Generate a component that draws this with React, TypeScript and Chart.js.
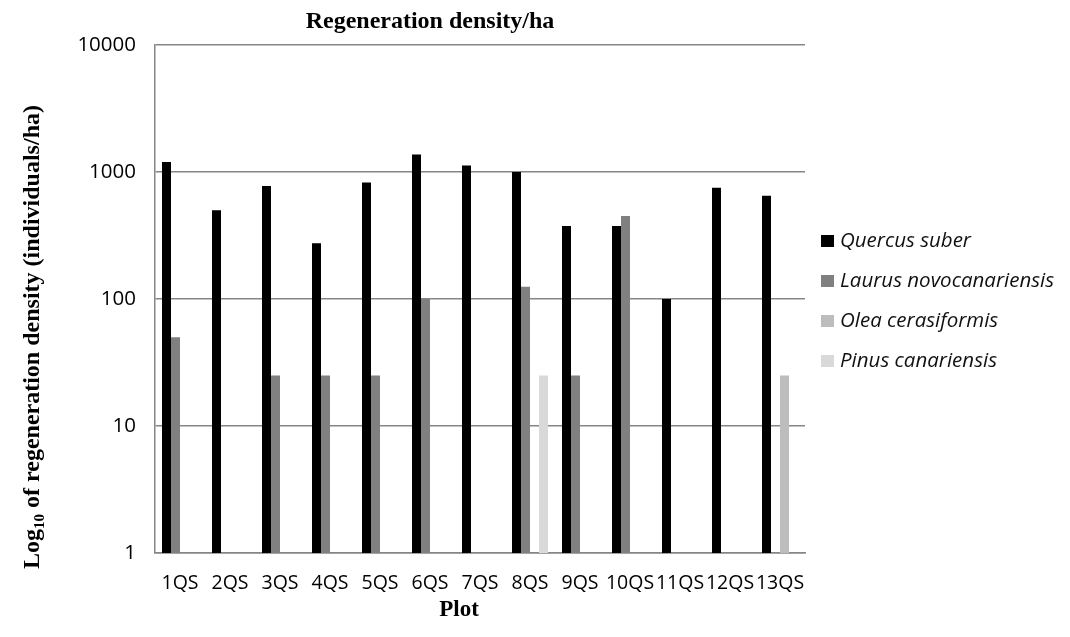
import React, { useEffect, useRef } from 'react';
import { Chart, registerables } from 'chart.js';

Chart.register(...registerables);

const plots = ['1QS', '2QS', '3QS', '4QS', '5QS', '6QS', '7QS', '8QS', '9QS', '10QS', '11QS', '12QS', '13QS'];
const quercusSuber = [1200, 500, 775, 275, 825, 1375, 1125, 1000, 375, 375, 100, 750, 650];
const laurusNovocanariensis = [50, null, 25, 25, 25, 100, null, 125, 25, 450, null, null, null];
const oleaCerasiformis = [null, null, null, null, null, null, null, null, null, null, null, null, 25];
const pinusCanariensis = [null, null, null, null, null, null, null, 25, null, null, null, null, null];
const yTicks = [1, 10, 100, 1000, 10000];

const seriesNames = ['Quercus suber', 'Laurus novocanariensis', 'Olea cerasiformis', 'Pinus canariensis'];
const seriesColors = ['#000000', '#808080', '#bdbdbd', '#d9d9d9'];

const SANS = '"Open Sans", sans-serif';
const SERIF = '"Liberation Serif", "Times New Roman", serif';

// titles and legend drawn straight onto the canvas
const decorations = {
  id: 'decorations',
  afterDraw(chart: Chart) {
    const ctx = chart.ctx;
    ctx.save();
    ctx.fillStyle = '#000';
    ctx.textBaseline = 'middle';

    ctx.font = `bold 24px ${SERIF}`;
    ctx.textAlign = 'center';
    ctx.fillText('Regeneration density/ha', 422, 14);
    ctx.font = `bold 23px ${SERIF}`;
    ctx.fillText('Plot', 451, 602);

    // rotated y title with subscript
    ctx.translate(25, 329);
    ctx.rotate(-Math.PI / 2);
    const main = `bold 24px ${SERIF}`;
    const sub = `bold 15px ${SERIF}`;
    const a = 'Log';
    const b = '10';
    const c = ' of regeneration density (individuals/ha)';
    ctx.font = main;
    const wa = ctx.measureText(a).width;
    const wc = ctx.measureText(c).width;
    ctx.font = sub;
    const wb = ctx.measureText(b).width;
    let x = -(wa + wb + wc) / 2;
    ctx.textAlign = 'left';
    ctx.font = main;
    ctx.fillText(a, x, 0);
    x += wa;
    ctx.font = sub;
    ctx.fillText(b, x, 7);
    x += wb;
    ctx.font = main;
    ctx.fillText(c, x, 0);
    ctx.restore();

    // legend
    ctx.save();
    ctx.textBaseline = 'middle';
    ctx.textAlign = 'left';
    ctx.font = `italic 20.5px ${SANS}`;
    chart.data.datasets.forEach((ds: any, i: number) => {
      const cy = 233 + i * 40;
      ctx.fillStyle = ds.backgroundColor;
      ctx.fillRect(813, cy - 6, 13, 12);
      ctx.fillStyle = '#111';
      ctx.fillText(ds.label, 832, cy);
    });
    ctx.restore();
  },
};

const App = () => {
  const canvasRef = useRef<HTMLCanvasElement>(null);

  useEffect(() => {
    if (!canvasRef.current) return;
    const seriesData = [quercusSuber, laurusNovocanariensis, oleaCerasiformis, pinusCanariensis];

    const chart = new Chart(canvasRef.current, {
      type: 'bar',
      data: {
        labels: plots,
        datasets: seriesData.map((d, i) => ({
          label: seriesNames[i],
          data: d,
          backgroundColor: seriesColors[i],
          borderWidth: 0,
          barPercentage: 1,
          categoryPercentage: 0.72,
        })),
      },
      options: {
        animation: false,
        responsive: true,
        maintainAspectRatio: false,
        layout: { padding: { top: 37, right: 257, left: 0, bottom: 0 } },
        plugins: {
          legend: { display: false },
          tooltip: { enabled: false },
        },
        scales: {
          x: {
            grid: { display: false },
            border: { display: true, color: '#868686', width: 1.5 },
            ticks: {
              autoSkip: false,
              maxRotation: 0,
              padding: 11,
              color: '#000',
              font: { family: SANS, size: 19.5 },
            },
            afterFit: (scale: any) => {
              scale.height = 76;
            },
          },
          y: {
            type: 'logarithmic',
            min: 1,
            max: 10000,
            grid: { color: '#868686', lineWidth: 1.5, drawTicks: false },
            border: { display: true, color: '#868686', width: 1.5 },
            afterBuildTicks: (scale: any) => {
              scale.ticks = yTicks.map((v) => ({ value: v }));
            },
            ticks: {
              padding: 19,
              color: '#000',
              font: { family: SANS, size: 20.5 },
              callback: (v: any) => String(v),
            },
            afterFit: (scale: any) => {
              scale.width = 147;
            },
          },
        },
      },
      plugins: [decorations],
    });

    return () => {
      chart.destroy();
    };
  }, []);

  return (
    <div style={{ width: '1054px', height: '621px', position: 'relative' }}>
      <canvas ref={canvasRef}></canvas>
    </div>
  );
};

export default App;
